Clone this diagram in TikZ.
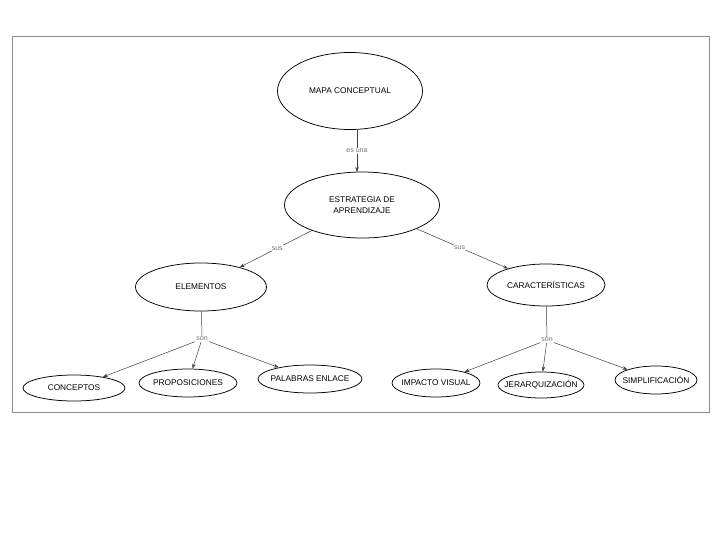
\documentclass[tikz,border=0pt]{standalone}
\usepackage{fontspec}
\setmainfont{Liberation Sans}
\usetikzlibrary{shapes.geometric,arrows.meta}
\begin{document}
\begin{tikzpicture}[x=1pt,y=-1pt,
  concept/.style={draw=black,line width=0.75pt,ellipse,inner sep=0pt,
    label={[font=\fontsize{8.3}{11.5}\selectfont,align=center]center:#1}},
  link/.style={draw=black!75,line width=0.5pt},
  arr/.style={link,-{Stealth[length=5pt,width=3.6pt]}},
  lbl/.style={font=\fontsize{7}{8}\selectfont,text=black!55,fill=white,inner sep=1pt}]
\useasboundingbox (0,0) rectangle (728,546);
\fill[white] (0,0) rectangle (728,546);
\draw[black!45,line width=0.8pt] (12,36) rectangle (709,412);

\node[concept={MAPA CONCEPTUAL},minimum width=145,minimum height=77] (mapa) at (350,91) {};
\node[concept={ESTRATEGIA DE\\APRENDIZAJE},minimum width=155,minimum height=66] (estr) at (362,205) {};
\node[concept={ELEMENTOS},minimum width=131,minimum height=48] (elem) at (201,287) {};
\node[concept={CARACTERÍSTICAS},minimum width=118,minimum height=42] (car) at (546,285) {};

\node[concept={CONCEPTOS},minimum width=102,minimum height=26] (conc) at (74,388) {};
\node[concept={PROPOSICIONES},minimum width=98,minimum height=28] (prop) at (188,383) {};
\node[concept={PALABRAS ENLACE},minimum width=104,minimum height=28] (pal) at (310,379) {};
\node[concept={IMPACTO VISUAL},minimum width=88,minimum height=28] (imp) at (436,383) {};
\node[concept={JERARQUIZACIÓN},minimum width=86,minimum height=26] (jer) at (541,385) {};
\node[concept={SIMPLIFICACIÓN},minimum width=82,minimum height=28] (sim) at (656,380) {};

\coordinate (mapab) at (357,130);
\coordinate (estrt) at (357,172);
\draw[arr] (mapab) -- node[lbl] {es una} (estrt);

\draw[arr] (estr) -- node[lbl,pos=0.48] {sus} (elem);
\draw[arr] (estr) -- node[lbl,pos=0.47] {sus} (car);

\node[lbl] (son1) at (202,339) {son};
\node[lbl] (son2) at (547,340) {son};
\draw[link] (elem) -- (son1);
\draw[link] (car) -- (son2);
\draw[arr] (son1) -- (conc);
\draw[arr] (son1) -- (prop);
\draw[arr] (son1) -- (pal);
\draw[arr] (son2) -- (imp);
\draw[arr] (son2) -- (jer);
\draw[arr] (son2) -- (sim);
\end{tikzpicture}
\end{document}
